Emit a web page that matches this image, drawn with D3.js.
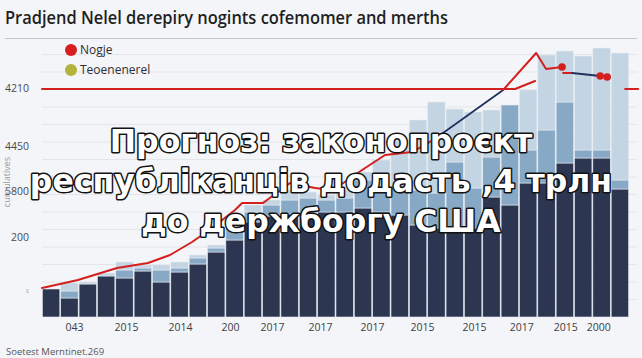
<!DOCTYPE html>
<html><head><meta charset="utf-8">
<script src="https://cdn.jsdelivr.net/npm/d3@7"></script>
<style>html,body{margin:0;padding:0;background:#f4f5f8;} svg{display:block}</style>
</head><body><svg id="c" width="642" height="358"></svg>
<script>
// ---------- data ----------
const titleText = "Pradjend Nelel derepiry nogints cofemomer and merths";
const overlayLines = ["Прогноз: законопроєкт", "республіканців додасть ,4 трлн", "до держборгу США"];
const legendLabels = ["Nogje", "Teoenenerel"];
const sourceText = "Soetest Merntinet.269";
const yAxisTitle = "cumulatives";

const categories = d3.range(32);
const darkValues  = [560,380,660,820,780,920,700,900,1060,1300,1540,1900,2020,2060,2080,2100,2100,2180,2100,2040,1840,1780,1780,1780,2400,2240,2680,2680,3080,3180,3180,2560];
const midValues   = [0,140,0,0,160,60,240,80,120,80,240,200,220,280,300,240,280,560,440,600,700,700,1320,800,800,2000,660,1060,1220,160,160,180];
const lightValues = [0,160,40,60,160,60,100,120,60,60,200,140,100,200,120,100,160,160,600,900,1400,1820,1060,1520,940,0,1200,1500,1020,1880,2040,2540];

// trend line (x in category-index units, value)
const trendRedX = [0,1.96,4.09,5.78,6.98,8.18,9.27,10.52,10.91,12.05,13.52,14.89,15.87,17.45,18.70,20.17,21.05,21.86];
const trendRedV = [580,740,980,1080,1240,1500,1780,2140,2280,2280,2680,2580,2540,2940,3240,3300,3480,3680];
const trendNavyX = [21.86,25.14];
const trendNavyV = [3680,4540];
const trendPeakX = [25.14,26.94,27.48,28.35];
const trendPeakV = [4540,5280,4960,5000];
const tailRedX = [28.41,28.90];
const tailRedV = [4880,4880];
const tailNavyX = [28.90,30.43];
const tailNavyV = [4880,4820];
const markerX = [28.35,30.43,30.81];
const markerV = [5000,4820,4800];
// reference line
const refX = [0,25.79,26.88];
const refV = [4560,4560,4720];
const refTailX = [31.79,32.5];
const refTailV = [4560,4560];

const yTickValues = [4580,3420,2520,1600,540];
const yTickLabels = ["4210","4450","5800","200","ꜱ"];
const xTickValues = [1.74,4.58,7.52,10.25,12.54,15.16,17.99,20.72,23.55,26.12,28.52,30.32];
const xTickLabels = ["043","2015","2014","200","2017","2017","2017","2015","2015","2017","2015","2000"];

// ---------- chart ----------
const svg = d3.select("#c");
const W = 642, H = 358;
const plot = {left:42, right:629, top:37, bottom:317};

svg.append("rect").attr("width",W).attr("height",H).attr("fill","#f4f5f8");

const y = d3.scaleLinear().domain([0,5600]).range([plot.bottom, plot.top]);
const xLin = d3.scaleLinear().domain([0,32]).range([plot.left, plot.right]);
const xBand = d3.scaleBand().domain(categories).range([plot.left, plot.right]).paddingInner(0.05).paddingOuter(0.02);

// gridlines
const gridVals = d3.range(350, 5600, 350);
svg.append("g").selectAll("line").data(gridVals).join("line")
  .attr("x1", plot.left).attr("x2", 637)
  .attr("y1", d=>y(d)).attr("y2", d=>y(d))
  .attr("stroke","#e3e5ea").attr("stroke-width",1);

// title rule
svg.append("line").attr("x1",5).attr("x2",637).attr("y1",38.5).attr("y2",38.5)
  .attr("stroke","#c4c6cc").attr("stroke-width",1);

// title
svg.append("text").attr("x",5).attr("y",24).text(titleText)
  .attr("font-family","'Open Sans', sans-serif").attr("font-weight",600)
  .attr("font-size",18).attr("fill","#1f1f22")
  .attr("textLength",443).attr("lengthAdjust","spacingAndGlyphs");

// stacked bars
const table = categories.map((c,i)=>({cat:c, dark:darkValues[i], mid:midValues[i], light:lightValues[i]}));
const keys = ["dark","mid","light"];
const colors = {dark:"#2c3651", mid:"#87a9c5", light:"#c3d4e2"};
const stacked = d3.stack().keys(keys)(table);
svg.append("g").selectAll("g").data(stacked).join("g")
  .attr("fill", d=>colors[d.key])
  .selectAll("rect").data(d=>d).join("rect")
  .attr("x", d=>xBand(d.data.cat))
  .attr("width", xBand.bandwidth())
  .attr("y", d=>y(d[1]))
  .attr("height", d=>Math.max(0, y(d[0]) - y(d[1])))
  .attr("stroke","#e6ecf2").attr("stroke-width",0.6);

// lines
const line = d3.line().x(d=>xLin(d[0])).y(d=>y(d[1]));
const zip = (a,b)=>a.map((v,i)=>[v,b[i]]);
function drawLine(xs, vs, color, w){
  svg.append("path").datum(zip(xs,vs)).attr("d", line)
    .attr("fill","none").attr("stroke",color).attr("stroke-width",w)
    .attr("stroke-linejoin","round").attr("stroke-linecap","round");
}
drawLine(refX, refV, "#d41f1f", 2);
drawLine(refTailX, refTailV, "#d41f1f", 2);
drawLine(trendRedX, trendRedV, "#d41f1f", 2);
drawLine(trendNavyX, trendNavyV, "#1f3260", 1.8);
drawLine(trendPeakX, trendPeakV, "#d41f1f", 2);
drawLine(tailRedX, tailRedV, "#d41f1f", 2);
drawLine(tailNavyX, tailNavyV, "#1f3260", 1.8);
svg.append("g").selectAll("circle").data(zip(markerX, markerV)).join("circle")
  .attr("cx", d=>xLin(d[0])).attr("cy", d=>y(d[1])).attr("r",3.8).attr("fill","#d41f1f");

// y axis
const yAxis = d3.axisLeft(y).tickValues(yTickValues).tickFormat((d,i)=>yTickLabels[i]).tickSize(0).tickPadding(0);
const gy = svg.append("g").attr("transform","translate(29,0)").call(yAxis);
gy.select(".domain").remove();
gy.selectAll("text").attr("font-family","'Open Sans', sans-serif").attr("font-size",10.5).attr("fill","#4a4a4f");
gy.selectAll(".tick").filter((d,i)=>i===4).select("text").attr("font-size",7).attr("fill","#999");

svg.append("text").attr("transform","translate(10,182) rotate(-90)").attr("text-anchor","middle")
  .attr("font-family","'Open Sans', sans-serif").attr("font-size",9).attr("fill","#9a9aa0").text(yAxisTitle);

// x axis
const xAxis = d3.axisBottom(xLin).tickValues(xTickValues).tickFormat((d,i)=>xTickLabels[i]).tickSize(0).tickPadding(0);
const gx = svg.append("g").attr("transform","translate(0,324)").call(xAxis);
gx.select(".domain").remove();
gx.selectAll("text").attr("font-family","'Open Sans', sans-serif").attr("font-size",10.5).attr("fill","#3e3e44");

// legend
const legColors = ["#d81e1e","#b3b23a"];
const leg = svg.append("g");
legendLabels.forEach((t,i)=>{
  const cy = 50 + i*20;
  leg.append("circle").attr("cx",71).attr("cy",cy).attr("r",6).attr("fill",legColors[i]);
  leg.append("text").attr("x",80).attr("y",cy+4).text(t)
    .attr("font-family","'Open Sans', sans-serif").attr("font-size",12).attr("fill","#2e2e33");
});

// source
svg.append("text").attr("x",6).attr("y",355).text(sourceText)
  .attr("font-family","'Open Sans', sans-serif").attr("font-size",9.5).attr("fill","#55555b");

// overlay headline
const ov = svg.append("g");
const baselines = [152,192,232];
overlayLines.forEach((t,i)=>{
  ov.append("text").attr("x",321).attr("y",baselines[i]).attr("text-anchor","middle").text(t)
    .attr("font-family","'DejaVu Sans', sans-serif").attr("font-weight","bold").attr("font-size",31.5)
    .attr("fill","#ffffff").attr("stroke","#111111").attr("stroke-width",3)
    .attr("stroke-linejoin","round").attr("paint-order","stroke");
});
</script></body></html>
